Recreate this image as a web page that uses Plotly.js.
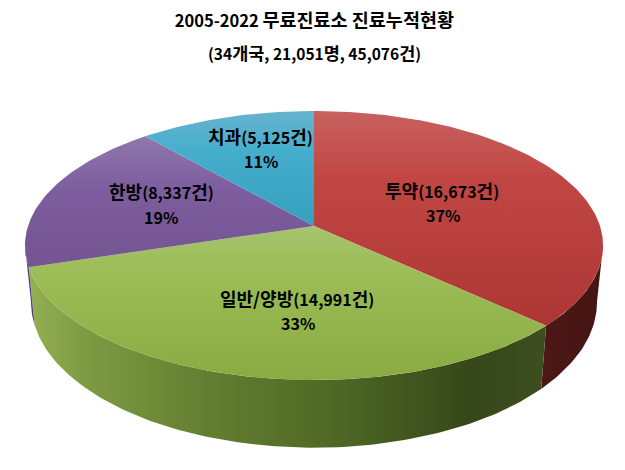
<!DOCTYPE html>
<html><head><meta charset="utf-8">
<script src="https://cdn.plot.ly/plotly-3.0.1.min.js"></script>
<style>html,body{margin:0;padding:0;background:#fff}</style></head>
<body><div id="chart" style="width:625px;height:470px"></div>
<script>
const categories = ['투약','일반/양방','한방','치과'];
const cases = [16673,14991,8337,5125];
const caseLabels = ['16,673','14,991','8,337','5,125'];
const percents = [37,33,19,11];

const FONT = '"Liberation Sans Narrow","Noto Sans CJK KR",sans-serif';
const topFace = {cx:314, cy:226, A:286, B:131.7, k:0.145};
const botFace = {cx:314, cy:281, A:280, B:142.5, k:0.145};
const topGrad = [
  {a:111,b:330,c:[[0,'#c7615f'],[0.3,'#c14744'],[1,'#ac3533']]},
  {a:226,b:380,c:[[0,'#a5c46d'],[0.3,'#9cbd57'],[1,'#8aab42']]},
  {a:135,b:270,c:[[0,'#9078ac'],[0.4,'#7d5d9e'],[1,'#735590']]},
  {a:111,b:226,c:[[0,'#67b3cd'],[0.35,'#45aecd'],[1,'#369fbd']]}
];
const wallGrad = [
  {c:[[0,'#4c1816'],[1,'#451513']]},
  {c:[[0,'#93b152'],[0.1,'#7e9c43'],[0.35,'#627e30'],[0.6,'#4e6725'],[0.85,'#36481a'],[1,'#3d4f1f']]},
  {c:[[0,'#5b4180'],[1,'#5b4180']]}
];
// first-line centres of the slice labels, and of the percent lines
const labelPos = [[442,190],[297,298],[161,191],[260,136]];
const percentPos = [[443,215],[298,323],[161,217],[261,161]];

function pt(f,deg){
  const t=deg*Math.PI/180, u=Math.sin(t), v=-Math.cos(t), w=1-f.k*v;
  return [f.cx+f.A*u/w, f.cy+f.B*v/w];
}
function arc(f,d0,d1){
  const out=[], n=Math.max(2,Math.ceil(Math.abs(d1-d0)));
  for(let i=0;i<=n;i++) out.push(pt(f,d0+(d1-d0)*i/n));
  return out;
}
const total = cases.reduce((a,b)=>a+b,0);
const edges=[0];
cases.forEach((c,i)=>edges.push(edges[i]+c/total*360));

function poly(pts,grad){
  return {type:'scatter',mode:'lines',x:pts.map(p=>p[0]),y:pts.map(p=>p[1]),
    fill:'toself',line:{width:0,color:'rgba(0,0,0,0)'},hoverinfo:'skip',showlegend:false,
    fillcolor:grad.c[0][1],
    fillgradient:{type:grad.type,start:grad.a,stop:grad.b,colorscale:grad.c}};
}
const traces=[];
// side walls run between the two widest points of the ellipses
const widest=Math.acos(-topFace.k)*180/Math.PI;
const wallRanges=[[widest,edges[1]],[edges[1],edges[2]],[edges[2],360-widest]];
wallRanges.forEach((r,i)=>{
  const pts=arc(topFace,r[0],r[1]).concat(arc(botFace,r[1],r[0]));
  pts.push(pts[0]);
  const xs=pts.map(p=>p[0]);
  traces.push(poly(pts,{type:'horizontal',a:Math.min(...xs),b:Math.max(...xs),c:wallGrad[i].c}));
});
// top faces
cases.forEach((c,i)=>{
  const pts=[[topFace.cx,topFace.cy]].concat(arc(topFace,edges[i],edges[i+1]));
  pts.push([topFace.cx,topFace.cy]);
  traces.push(poly(pts,{type:'vertical',a:topGrad[i].a,b:topGrad[i].b,c:topGrad[i].c}));
});
const big=(s,px=18)=>`<span style="font-size:${px}px">${s}</span>`;
const title1=`<b>2005-2022 ${big('무료진료소 진료누적현황',18.5)}</b>`;
const title2=`<b>(34${big('개국',17.5)}, 21,051${big('명',17.5)}, 45,076${big('건',17.5)})</b>`;
const annotations=[];
categories.forEach((name,i)=>{
  annotations.push({x:labelPos[i][0],y:labelPos[i][1],xref:'x',yref:'y',showarrow:false,
    text:`<b>${big(name)}(${caseLabels[i]}${big('건')})</b>`,
    font:{family:FONT,size:16,color:'#000'},xanchor:'center',yanchor:'middle'});
  annotations.push({x:percentPos[i][0],y:percentPos[i][1],xref:'x',yref:'y',showarrow:false,
    text:`<b>${percents[i]}%</b>`,
    font:{family:FONT,size:16,color:'#000'},xanchor:'center',yanchor:'middle'});
});
annotations.push({x:314,y:52,xref:'x',yref:'y',showarrow:false,text:title2,
  font:{family:FONT,size:15.5,color:'#000'},xanchor:'center',yanchor:'middle'});
Plotly.newPlot('chart',traces,{
  width:625,height:470,margin:{l:0,r:0,t:0,b:0},paper_bgcolor:'#fff',plot_bgcolor:'#fff',showlegend:false,
  title:{text:title1,font:{family:FONT,size:16.5,color:'#000'},x:0.503,xanchor:'center',y:0.955,yanchor:'middle'},
  xaxis:{range:[0,625],visible:false,fixedrange:true},
  yaxis:{range:[470,0],visible:false,fixedrange:true},
  annotations
},{displayModeBar:false,staticPlot:true});
</script></body></html>
